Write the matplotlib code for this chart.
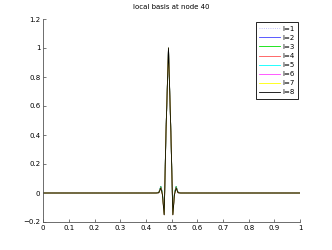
import matplotlib
matplotlib.use("Agg")
import matplotlib.pyplot as plt

# shared sample positions of the local basis function
x_nodes = [0.0, 0.44, 0.450, 0.458, 0.464, 0.471, 0.478, 0.4877, 0.497, 0.5047, 0.511, 0.5175, 0.525, 0.535, 1.0]
# values per level (nearly identical curves, slight differences in the side lobes)
y_fine = [0.0, 0.0, 0.004, 0.045, 0.0, -0.14, 0.42, 1.0, 0.42, -0.14, 0.0, 0.045, 0.004, 0.0, 0.0]
y_coarse = [0.0, 0.0, 0.002, 0.035, -0.01, -0.15, 0.42, 1.0, 0.42, -0.15, -0.01, 0.035, 0.002, 0.0, 0.0]

levels = ["l=1", "l=2", "l=3", "l=4", "l=5", "l=6", "l=7", "l=8"]
level_curves = [y_fine, y_fine, y_fine, y_coarse, y_coarse, y_coarse, y_coarse, y_coarse]
colors = ["#b0b0ff", "#4040ff", "#00e000", "#ff5050", "#00ffff", "#ff40ff", "#ffff00", "#000000"]
styles = [":", "-", "-", "-", "-", "-", "-", "-"]

x_ticks = [0, 0.1, 0.2, 0.3, 0.4, 0.5, 0.6, 0.7, 0.8, 0.9, 1]
x_labels = ["0", "0.1", "0.2", "0.3", "0.4", "0.5", "0.6", "0.7", "0.8", "0.9", "1"]
y_ticks = [-0.2, 0, 0.2, 0.4, 0.6, 0.8, 1, 1.2]
y_labels = ["\u22120.2", "0", "0.2", "0.4", "0.6", "0.8", "1", "1.2"]

fig = plt.figure(figsize=(3.32, 2.5), dpi=100)
ax = fig.add_axes([0.13, 0.112, 0.774, 0.812])

for lab, yv, c, ls in zip(levels, level_curves, colors, styles):
    ax.plot(x_nodes, yv, color=c, linestyle=ls, linewidth=0.6, label=lab)

ax.set_xlim(0, 1)
ax.set_ylim(-0.2, 1.2)
ax.set_xticks(x_ticks)
ax.set_xticklabels(x_labels)
ax.set_yticks(y_ticks)
ax.set_yticklabels(y_labels)
ax.tick_params(direction="in", length=2.5, width=0.5, labelsize=5, pad=2, color="#444444")
for s in ["top", "right"]:
    ax.spines[s].set_visible(False)
for s in ["left", "bottom"]:
    ax.spines[s].set_linewidth(0.6)
    ax.spines[s].set_color("#555555")

ax.set_title("local basis at node 40", fontsize=5, pad=7)

leg = ax.legend(loc="upper right", fontsize=5, handlelength=3.0, handletextpad=0.4,
                labelspacing=0.45, borderpad=0.45, fancybox=False, framealpha=1,
                edgecolor="black", bbox_to_anchor=(1.005, 1.0))
leg.get_frame().set_linewidth(0.6)

fig.savefig("out.png", dpi=100)
